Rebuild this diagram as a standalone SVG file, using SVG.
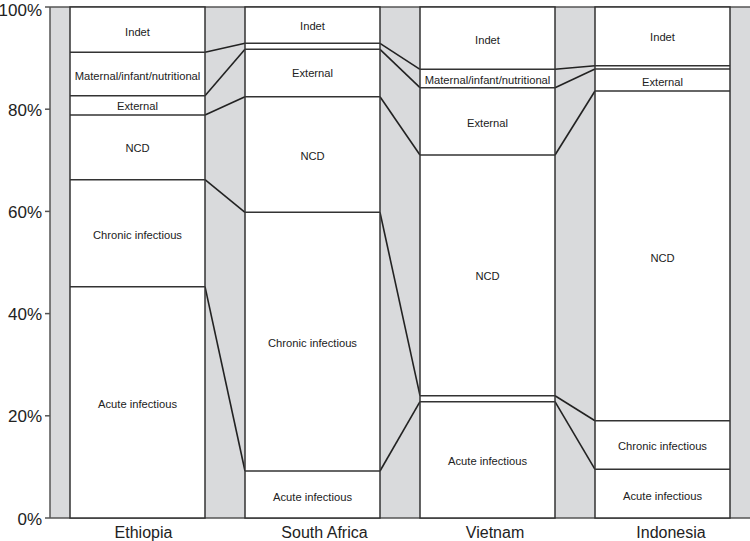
<svg xmlns="http://www.w3.org/2000/svg" width="750" height="541" viewBox="0 0 750 541">
<style>
.bg{fill:#d9dadc}
.bar{fill:#fff;stroke:#333;stroke-width:1.5}
.seg{stroke:#333;stroke-width:1.5;fill:none}
.con{stroke:#222;stroke-width:1.6;fill:none}
.lbl{font-family:"Liberation Sans",Arial,sans-serif;font-size:11.2px;fill:#222;text-anchor:middle;dominant-baseline:central}
.ax{font-family:"Liberation Sans",Arial,sans-serif;font-size:17px;fill:#222;text-anchor:end;dominant-baseline:central}
.cat{font-family:"Liberation Sans",Arial,sans-serif;font-size:16px;fill:#222;text-anchor:middle;dominant-baseline:central}
.axl{stroke:#555;stroke-width:1.5}
</style>
<rect x="0" y="0" width="750" height="541" fill="#fff"/>
<rect class="bg" x="50" y="7" width="700" height="511"/>
<g id="axis">
<line class="axl" x1="50" y1="7" x2="750" y2="7"/>
<line class="axl" x1="50" y1="7" x2="50" y2="518"/>
<line class="axl" x1="50" y1="518" x2="750" y2="518"/>
<line class="axl" x1="45" y1="7" x2="50" y2="7"/>
<line class="axl" x1="45" y1="109.2" x2="50" y2="109.2"/>
<line class="axl" x1="45" y1="211.4" x2="50" y2="211.4"/>
<line class="axl" x1="45" y1="313.6" x2="50" y2="313.6"/>
<line class="axl" x1="45" y1="415.8" x2="50" y2="415.8"/>
<line class="axl" x1="45" y1="518" x2="50" y2="518"/>
<text class="ax" x="42" y="10">100%</text>
<text class="ax" x="42" y="110">80%</text>
<text class="ax" x="42" y="212">60%</text>
<text class="ax" x="42" y="314">40%</text>
<text class="ax" x="42" y="416">20%</text>
<text class="ax" x="42" y="519">0%</text>
</g>
<g id="connectors">
<line class="con" x1="205" y1="52.3" x2="245" y2="43.3"/>
<line class="con" x1="205" y1="95.7" x2="245" y2="49.3"/>
<line class="con" x1="205" y1="115" x2="245" y2="96.7"/>
<line class="con" x1="205" y1="179.7" x2="245" y2="212.3"/>
<line class="con" x1="205" y1="286.7" x2="245" y2="471"/>
<line class="con" x1="380" y1="43.3" x2="420" y2="69.3"/>
<line class="con" x1="380" y1="49.3" x2="420" y2="87.7"/>
<line class="con" x1="380" y1="96.7" x2="420" y2="155"/>
<line class="con" x1="380" y1="212.3" x2="420" y2="395.7"/>
<line class="con" x1="380" y1="471" x2="420" y2="401.7"/>
<line class="con" x1="555" y1="69.3" x2="595" y2="65.7"/>
<line class="con" x1="555" y1="87.7" x2="595" y2="69"/>
<line class="con" x1="555" y1="155" x2="595" y2="91"/>
<line class="con" x1="555" y1="395.7" x2="595" y2="420.7"/>
<line class="con" x1="555" y1="401.7" x2="595" y2="469.3"/>
</g>
<g id="ethiopia">
<rect class="bar" x="70" y="7" width="135" height="511"/>
<line class="seg" x1="70" y1="52.3" x2="205" y2="52.3" stroke="#555"/>
<line class="seg" x1="70" y1="95.7" x2="205" y2="95.7"/>
<line class="seg" x1="70" y1="115" x2="205" y2="115"/>
<line class="seg" x1="70" y1="179.7" x2="205" y2="179.7"/>
<line class="seg" x1="70" y1="286.7" x2="205" y2="286.7"/>
<text class="lbl" x="137.5" y="32">Indet</text>
<text class="lbl" x="137.5" y="76">Maternal/infant/nutritional</text>
<text class="lbl" x="137.5" y="106">External</text>
<text class="lbl" x="137.5" y="148">NCD</text>
<text class="lbl" x="137.5" y="235">Chronic infectious</text>
<text class="lbl" x="137.5" y="404">Acute infectious</text>
<text class="cat" x="143.5" y="532">Ethiopia</text>
</g>
<g id="south-africa">
<rect class="bar" x="245" y="7" width="135" height="511"/>
<line class="seg" x1="245" y1="43.3" x2="380" y2="43.3"/>
<line class="seg" x1="245" y1="49.3" x2="380" y2="49.3"/>
<line class="seg" x1="245" y1="96.7" x2="380" y2="96.7"/>
<line class="seg" x1="245" y1="212.3" x2="380" y2="212.3"/>
<line class="seg" x1="245" y1="471" x2="380" y2="471"/>
<text class="lbl" x="312.5" y="26">Indet</text>
<text class="lbl" x="312.5" y="73">External</text>
<text class="lbl" x="312.5" y="156">NCD</text>
<text class="lbl" x="312.5" y="343">Chronic infectious</text>
<text class="lbl" x="312.5" y="497">Acute infectious</text>
<text class="cat" x="324.5" y="532">South Africa</text>
</g>
<g id="vietnam">
<rect class="bar" x="420" y="7" width="135" height="511"/>
<line class="seg" x1="420" y1="69.3" x2="555" y2="69.3"/>
<line class="seg" x1="420" y1="87.7" x2="555" y2="87.7"/>
<line class="seg" x1="420" y1="155" x2="555" y2="155"/>
<line class="seg" x1="420" y1="395.7" x2="555" y2="395.7"/>
<line class="seg" x1="420" y1="401.7" x2="555" y2="401.7"/>
<text class="lbl" x="487.5" y="40">Indet</text>
<text class="lbl" x="487.5" y="80">Maternal/infant/nutritional</text>
<text class="lbl" x="487.5" y="123">External</text>
<text class="lbl" x="487.5" y="276">NCD</text>
<text class="lbl" x="487.5" y="461">Acute infectious</text>
<text class="cat" x="495" y="532">Vietnam</text>
</g>
<g id="indonesia">
<rect class="bar" x="595" y="7" width="135" height="511"/>
<line class="seg" x1="595" y1="65.7" x2="730" y2="65.7" stroke="#555"/>
<line class="seg" x1="595" y1="69" x2="730" y2="69"/>
<line class="seg" x1="595" y1="91" x2="730" y2="91"/>
<line class="seg" x1="595" y1="420.7" x2="730" y2="420.7"/>
<line class="seg" x1="595" y1="469.3" x2="730" y2="469.3"/>
<text class="lbl" x="662.5" y="37">Indet</text>
<text class="lbl" x="662.5" y="82">External</text>
<text class="lbl" x="662.5" y="258">NCD</text>
<text class="lbl" x="662.5" y="446">Chronic infectious</text>
<text class="lbl" x="662.5" y="496">Acute infectious</text>
<text class="cat" x="671" y="532">Indonesia</text>
</g>
</svg>
